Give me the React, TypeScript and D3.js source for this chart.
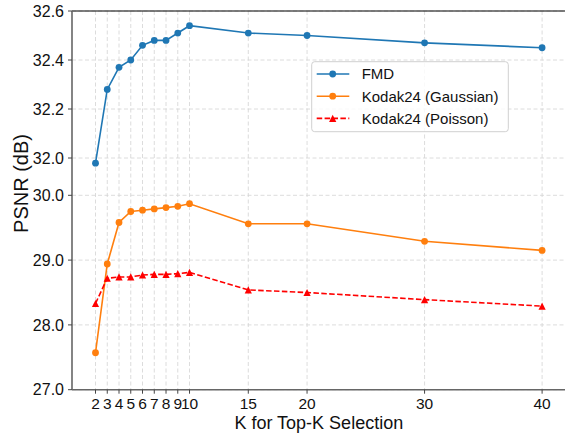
import React, { useEffect, useRef } from 'react';
import * as d3 from 'd3';

const kValues = [2, 3, 4, 5, 6, 7, 8, 9, 10, 15, 20, 30, 40];
const fmdPsnr = [31.72, 32.28, 32.37, 32.4, 32.46, 32.48, 32.48, 32.51, 32.54, 32.51, 32.5, 32.47, 32.45];
const gaussianPsnr = [27.57, 28.94, 29.58, 29.75, 29.77, 29.79, 29.81, 29.83, 29.87, 29.56, 29.56, 29.29, 29.15];
const poissonPsnr = [28.33, 28.72, 28.74, 28.74, 28.77, 28.78, 28.78, 28.79, 28.81, 28.54, 28.5, 28.39, 28.29];

const yTicks = [27.0, 28.0, 29.0, 30.0, 32.0, 32.2, 32.4, 32.6];
const xTicks = [2, 3, 4, 5, 6, 7, 8, 9, 10, 15, 20, 30, 40];
const seriesNames = ['FMD', 'Kodak24 (Gaussian)', 'Kodak24 (Poisson)'];

const FONT = '"Liberation Sans", Arial, sans-serif';

type Pt = { k: number; v: number };

export default function App() {
  const svgRef = useRef<SVGSVGElement>(null);

  useEffect(() => {
    if (!svgRef.current) return;
    const width = 565;
    const height = 433;
    const svg = d3.select(svgRef.current);
    svg.selectAll('*').remove();
    svg.attr('width', width).attr('height', height);

    const left = 72;
    const right = 565.6;
    const top = 11;
    const bottom = 389.7;

    const xScale = d3.scaleLinear().domain([0, 42]).range([left, right]);
    // piecewise axis: 27-30 and 32-32.6 stretched, 30-32 squeezed
    const yScale = d3.scaleLinear()
      .domain([27, 30, 32, 32.6])
      .range([bottom, 195.3, 158, top]);

    const g = svg.append('g');

    // Grid
    g.selectAll('line.gx')
      .data(xTicks)
      .join('line')
      .attr('x1', d => xScale(d))
      .attr('x2', d => xScale(d))
      .attr('y1', top)
      .attr('y2', bottom)
      .attr('stroke', '#d3d3d3')
      .attr('stroke-width', 0.8)
      .attr('stroke-dasharray', '4,2.5');

    g.selectAll('line.gy')
      .data(yTicks)
      .join('line')
      .attr('x1', left)
      .attr('x2', right)
      .attr('y1', d => yScale(d))
      .attr('y2', d => yScale(d))
      .attr('stroke', '#d3d3d3')
      .attr('stroke-width', 0.8)
      .attr('stroke-dasharray', '4,2.5');

    // Spines
    g.append('line')
      .attr('x1', left).attr('x2', right).attr('y1', top).attr('y2', top)
      .attr('stroke', '#000').attr('stroke-width', 1.2);
    g.append('line')
      .attr('x1', left).attr('x2', left).attr('y1', top).attr('y2', bottom)
      .attr('stroke', '#666').attr('stroke-width', 1.6);
    g.append('line')
      .attr('x1', left).attr('x2', right).attr('y1', bottom).attr('y2', bottom)
      .attr('stroke', '#666').attr('stroke-width', 1.6);

    // Ticks + labels
    yTicks.forEach(t => {
      const y = yScale(t);
      g.append('line')
        .attr('x1', left - 4).attr('x2', left).attr('y1', y).attr('y2', y)
        .attr('stroke', '#444').attr('stroke-width', 1);
      g.append('text')
        .attr('x', left - 8)
        .attr('y', y)
        .attr('dy', '0.36em')
        .attr('text-anchor', 'end')
        .style('font-family', FONT)
        .style('font-size', '16px')
        .style('fill', '#111')
        .text(d3.format('.1f')(t));
    });

    xTicks.forEach(t => {
      const x = xScale(t);
      g.append('line')
        .attr('x1', x).attr('x2', x).attr('y1', bottom).attr('y2', bottom + 4)
        .attr('stroke', '#444').attr('stroke-width', 1);
      g.append('text')
        .attr('x', x)
        .attr('y', 409)
        .attr('text-anchor', 'middle')
        .style('font-family', FONT)
        .style('font-size', '15.5px')
        .style('fill', '#111')
        .text(String(t));
    });

    // Axis labels
    g.append('text')
      .attr('x', (left + right) / 2)
      .attr('y', 429)
      .attr('text-anchor', 'middle')
      .style('font-family', FONT)
      .style('font-size', '18px')
      .style('fill', '#111')
      .text('K for Top-K Selection');

    g.append('text')
      .attr('transform', 'translate(28,183.5) rotate(-90)')
      .attr('text-anchor', 'middle')
      .style('font-family', FONT)
      .style('font-size', '20px')
      .style('fill', '#111')
      .text('PSNR (dB)');

    const line = d3.line<Pt>()
      .x(d => xScale(d.k))
      .y(d => yScale(d.v));

    const tri = (s: number) => `M0,${-s}L${-s},${s}L${s},${s}Z`;

    const series = [
      { name: seriesNames[0], values: fmdPsnr, color: '#1f77b4', dash: null, marker: 'circle' },
      { name: seriesNames[1], values: gaussianPsnr, color: '#ff7f0e', dash: null, marker: 'circle' },
      { name: seriesNames[2], values: poissonPsnr, color: '#ff0000', dash: '5.5,2.4', marker: 'triangle' },
    ];

    series.forEach(s => {
      const pts: Pt[] = kValues.map((k, i) => ({ k, v: s.values[i] }));
      const p = g.append('path')
        .datum(pts)
        .attr('fill', 'none')
        .attr('stroke', s.color)
        .attr('stroke-width', 1.6)
        .attr('d', line);
      if (s.dash) p.attr('stroke-dasharray', s.dash);

      if (s.marker === 'circle') {
        g.selectAll(null)
          .data(pts)
          .join('circle')
          .attr('cx', d => xScale(d.k))
          .attr('cy', d => yScale(d.v))
          .attr('r', 3.4)
          .attr('fill', s.color);
      } else {
        g.selectAll(null)
          .data(pts)
          .join('path')
          .attr('transform', d => `translate(${xScale(d.k)},${yScale(d.v)})`)
          .attr('d', tri(3.6))
          .attr('fill', s.color);
      }
    });

    // Legend
    const lg = g.append('g').attr('transform', 'translate(311.7,61.7)');
    lg.append('rect')
      .attr('width', 196.6)
      .attr('height', 70)
      .attr('rx', 3)
      .attr('fill', 'rgba(255,255,255,0.8)')
      .attr('stroke', '#d0d0d0')
      .attr('stroke-width', 1);

    series.forEach((s, i) => {
      const y = 12.3 + i * 22.2;
      const l = lg.append('line')
        .attr('x1', 5).attr('x2', 37.6).attr('y1', y).attr('y2', y)
        .attr('stroke', s.color).attr('stroke-width', 1.6);
      if (s.dash) l.attr('stroke-dasharray', s.dash);
      if (s.marker === 'circle') {
        lg.append('circle').attr('cx', 21).attr('cy', y).attr('r', 3.4).attr('fill', s.color);
      } else {
        lg.append('path')
          .attr('transform', `translate(21,${y})`)
          .attr('d', tri(3.6))
          .attr('fill', s.color);
      }
      lg.append('text')
        .attr('x', 50)
        .attr('y', y)
        .attr('dy', '0.36em')
        .style('font-family', FONT)
        .style('font-size', '15px')
        .style('fill', '#111')
        .text(s.name);
    });
  }, []);

  return (
    <div style={{ position: 'absolute', left: 0, top: 0, width: 565, height: 433, background: '#fff' }}>
      <svg ref={svgRef} style={{ display: 'block' }}></svg>
    </div>
  );
}
